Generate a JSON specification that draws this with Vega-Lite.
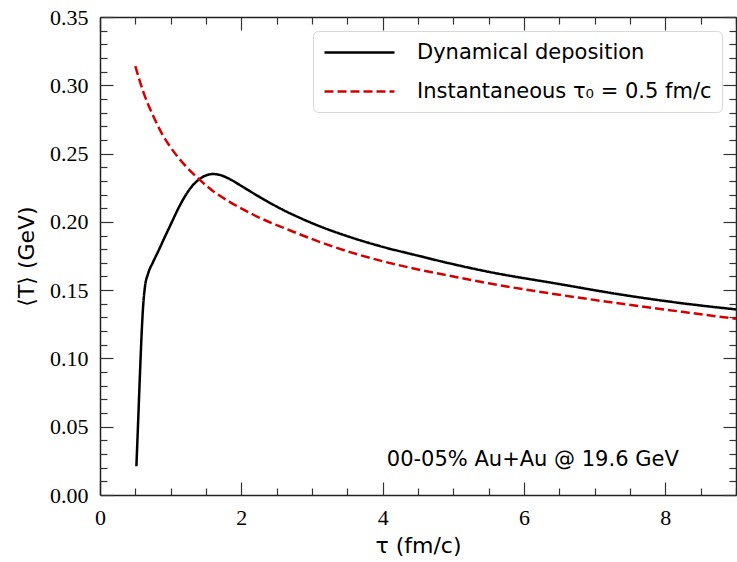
{
  "$schema": "https://vega.github.io/schema/vega-lite/v6.json",
  "width": 636,
  "height": 478,
  "autosize": {"type": "none"},
  "padding": {"left": 100, "top": 17, "right": 1, "bottom": 67},
  "background": "white",
  "config": {"view": {"stroke": null}, "font": "DejaVu Sans"},
  "datasets": {
    "curves": [
      {"series": "Dynamical deposition", "tau": 0.515, "T": 0.021},
      {"series": "Dynamical deposition", "tau": 0.54, "T": 0.054},
      {"series": "Dynamical deposition", "tau": 0.565, "T": 0.088},
      {"series": "Dynamical deposition", "tau": 0.59, "T": 0.119},
      {"series": "Dynamical deposition", "tau": 0.61, "T": 0.138},
      {"series": "Dynamical deposition", "tau": 0.635, "T": 0.152},
      {"series": "Dynamical deposition", "tau": 0.68, "T": 0.162},
      {"series": "Dynamical deposition", "tau": 0.75, "T": 0.1705},
      {"series": "Dynamical deposition", "tau": 0.82, "T": 0.178},
      {"series": "Dynamical deposition", "tau": 0.9, "T": 0.187},
      {"series": "Dynamical deposition", "tau": 1.0, "T": 0.198},
      {"series": "Dynamical deposition", "tau": 1.13, "T": 0.212},
      {"series": "Dynamical deposition", "tau": 1.27, "T": 0.224},
      {"series": "Dynamical deposition", "tau": 1.4, "T": 0.231},
      {"series": "Dynamical deposition", "tau": 1.5, "T": 0.234},
      {"series": "Dynamical deposition", "tau": 1.6, "T": 0.235},
      {"series": "Dynamical deposition", "tau": 1.7, "T": 0.2343},
      {"series": "Dynamical deposition", "tau": 1.84, "T": 0.2312},
      {"series": "Dynamical deposition", "tau": 2.0, "T": 0.2263},
      {"series": "Dynamical deposition", "tau": 2.2, "T": 0.22},
      {"series": "Dynamical deposition", "tau": 2.4, "T": 0.214},
      {"series": "Dynamical deposition", "tau": 2.6, "T": 0.2085},
      {"series": "Dynamical deposition", "tau": 2.8, "T": 0.2036},
      {"series": "Dynamical deposition", "tau": 3.06, "T": 0.1978},
      {"series": "Dynamical deposition", "tau": 3.53, "T": 0.189},
      {"series": "Dynamical deposition", "tau": 4.0, "T": 0.1817},
      {"series": "Dynamical deposition", "tau": 4.47, "T": 0.1756},
      {"series": "Dynamical deposition", "tau": 4.94, "T": 0.1697},
      {"series": "Dynamical deposition", "tau": 5.5, "T": 0.1634},
      {"series": "Dynamical deposition", "tau": 6.45, "T": 0.1549},
      {"series": "Dynamical deposition", "tau": 7.39, "T": 0.1466},
      {"series": "Dynamical deposition", "tau": 8.33, "T": 0.1398},
      {"series": "Dynamical deposition", "tau": 9.0, "T": 0.1359},
      {"series": "Instantaneous τ₀ = 0.5 fm/c", "tau": 0.5, "T": 0.314},
      {"series": "Instantaneous τ₀ = 0.5 fm/c", "tau": 0.55, "T": 0.3052},
      {"series": "Instantaneous τ₀ = 0.5 fm/c", "tau": 0.61, "T": 0.2956},
      {"series": "Instantaneous τ₀ = 0.5 fm/c", "tau": 0.68, "T": 0.2861},
      {"series": "Instantaneous τ₀ = 0.5 fm/c", "tau": 0.75, "T": 0.2779},
      {"series": "Instantaneous τ₀ = 0.5 fm/c", "tau": 0.87, "T": 0.2652},
      {"series": "Instantaneous τ₀ = 0.5 fm/c", "tau": 1.0, "T": 0.2545},
      {"series": "Instantaneous τ₀ = 0.5 fm/c", "tau": 1.2, "T": 0.2415},
      {"series": "Instantaneous τ₀ = 0.5 fm/c", "tau": 1.39, "T": 0.2318},
      {"series": "Instantaneous τ₀ = 0.5 fm/c", "tau": 1.6, "T": 0.2225},
      {"series": "Instantaneous τ₀ = 0.5 fm/c", "tau": 1.84, "T": 0.2145},
      {"series": "Instantaneous τ₀ = 0.5 fm/c", "tau": 2.12, "T": 0.2065},
      {"series": "Instantaneous τ₀ = 0.5 fm/c", "tau": 2.26, "T": 0.203},
      {"series": "Instantaneous τ₀ = 0.5 fm/c", "tau": 2.7, "T": 0.1935},
      {"series": "Instantaneous τ₀ = 0.5 fm/c", "tau": 3.29, "T": 0.182},
      {"series": "Instantaneous τ₀ = 0.5 fm/c", "tau": 3.9, "T": 0.1725},
      {"series": "Instantaneous τ₀ = 0.5 fm/c", "tau": 4.47, "T": 0.1655},
      {"series": "Instantaneous τ₀ = 0.5 fm/c", "tau": 5.0, "T": 0.16},
      {"series": "Instantaneous τ₀ = 0.5 fm/c", "tau": 5.5, "T": 0.155},
      {"series": "Instantaneous τ₀ = 0.5 fm/c", "tau": 6.45, "T": 0.147},
      {"series": "Instantaneous τ₀ = 0.5 fm/c", "tau": 7.39, "T": 0.14},
      {"series": "Instantaneous τ₀ = 0.5 fm/c", "tau": 8.33, "T": 0.1335},
      {"series": "Instantaneous τ₀ = 0.5 fm/c", "tau": 9.0, "T": 0.129}
    ]
  },
  "resolve": {"axis": {"x": "independent", "y": "independent"}},
  "layer": [
    {
      "data": {"name": "curves"},
      "mark": {"type": "line", "strokeWidth": 2.5, "interpolate": "monotone", "clip": true},
      "encoding": {
        "x": {
          "field": "tau", "type": "quantitative",
          "scale": {"domain": [0, 9], "nice": false, "zero": false},
          "axis": {
            "orient": "bottom",
            "values": [0, 2, 4, 6, 8],
            "format": "d",
            "ticks": false,
            "labelPadding": 12,
            "labelFlush": false,
            "labelOverlap": false,
            "labelFont": "Liberation Serif", "labelFontSize": 22, "labelColor": "black",
            "domainColor": "#222", "domainWidth": 1.5,
            "grid": false,
            "title": "τ (fm/c)",
            "titleFont": "DejaVu Sans", "titleFontSize": 22, "titleFontWeight": "normal", "titleColor": "black",
            "titlePadding": 7
          }
        },
        "y": {
          "field": "T", "type": "quantitative",
          "scale": {"domain": [0, 0.35], "nice": false, "zero": false},
          "axis": {
            "orient": "left",
            "values": [0, 0.05, 0.1, 0.15, 0.2, 0.25, 0.3, 0.35],
            "format": ".2f",
            "ticks": false,
            "labelPadding": 12,
            "labelFlush": false,
            "labelOverlap": false,
            "labelFont": "Liberation Serif", "labelFontSize": 22, "labelColor": "black",
            "domainColor": "#222", "domainWidth": 1.5,
            "grid": false,
            "title": "⟨T⟩ (GeV)",
            "titleFont": "DejaVu Sans", "titleFontSize": 22, "titleFontWeight": "normal", "titleColor": "black",
            "titlePadding": 11
          }
        },
        "color": {
          "field": "series", "type": "nominal",
          "scale": {"domain": ["Dynamical deposition", "Instantaneous τ₀ = 0.5 fm/c"], "range": ["#000000", "#d40000"]},
          "legend": {
            "title": null, "orient": "top-right", "offset": 14, "padding": 10,
            "symbolType": "M-1,0H6", "symbolSize": 400, "symbolStrokeWidth": 2.5,
            "labelFont": "DejaVu Sans", "labelFontSize": 21, "labelColor": "black",
            "labelOffset": 71, "rowPadding": 17, "labelLimit": 400,
            "strokeColor": "#d9d9d9", "fillColor": "white", "cornerRadius": 5
          }
        },
        "strokeDash": {
          "field": "series", "type": "nominal",
          "scale": {"domain": ["Dynamical deposition", "Instantaneous τ₀ = 0.5 fm/c"], "range": [[1, 0], [9, 4]]}
        }
      }
    },
    {
      "data": {"values": [{"label": "00-05% Au+Au @ 19.6 GeV"}]},
      "mark": {"type": "text", "align": "right", "baseline": "alphabetic", "font": "DejaVu Sans", "fontSize": 21, "color": "black"},
      "encoding": {
        "x": {"datum": 8.19, "type": "quantitative", "axis": null},
        "y": {"datum": 0.021, "type": "quantitative", "axis": null},
        "text": {"field": "label", "type": "nominal"}
      }
    },
    {
      "data": {"name": "curves"},
      "mark": {"type": "point", "opacity": 0},
      "encoding": {
        "x": {"field": "tau", "type": "quantitative",
          "axis": {"orient": "bottom", "values": [0, 2, 4, 6, 8], "labels": false, "domain": false, "tickSize": -13, "tickColor": "#333", "tickWidth": 1.2, "grid": false, "title": null}},
        "y": {"field": "T", "type": "quantitative",
          "axis": {"orient": "left", "values": [0, 0.05, 0.1, 0.15, 0.2, 0.25, 0.3, 0.35], "labels": false, "domain": false, "tickSize": -13, "tickColor": "#333", "tickWidth": 1.2, "grid": false, "title": null}}
      }
    },
    {
      "data": {"name": "curves"},
      "mark": {"type": "point", "opacity": 0},
      "encoding": {
        "x": {"field": "tau", "type": "quantitative",
          "axis": {"orient": "bottom", "values": [0.5, 1, 1.5, 2.5, 3, 3.5, 4.5, 5, 5.5, 6.5, 7, 7.5, 8.5, 9], "labels": false, "domain": false, "tickSize": -7, "tickColor": "#333", "tickWidth": 1.2, "grid": false, "title": null}},
        "y": {"field": "T", "type": "quantitative",
          "axis": {"orient": "left", "values": [0.01, 0.02, 0.03, 0.04, 0.06, 0.07, 0.08, 0.09, 0.11, 0.12, 0.13, 0.14, 0.16, 0.17, 0.18, 0.19, 0.21, 0.22, 0.23, 0.24, 0.26, 0.27, 0.28, 0.29, 0.31, 0.32, 0.33, 0.34], "labels": false, "domain": false, "tickSize": -7, "tickColor": "#333", "tickWidth": 1.2, "grid": false, "title": null}}
      }
    },
    {
      "data": {"name": "curves"},
      "mark": {"type": "point", "opacity": 0},
      "encoding": {
        "x": {"field": "tau", "type": "quantitative",
          "axis": {"orient": "top", "values": [0, 2, 4, 6, 8], "labels": false, "domain": true, "domainColor": "#222", "domainWidth": 1.5, "tickSize": -13, "tickColor": "#333", "tickWidth": 1.2, "grid": false, "title": null}},
        "y": {"field": "T", "type": "quantitative",
          "axis": {"orient": "right", "values": [0, 0.05, 0.1, 0.15, 0.2, 0.25, 0.3, 0.35], "labels": false, "domain": true, "domainColor": "#222", "domainWidth": 1.5, "tickSize": -13, "tickColor": "#333", "tickWidth": 1.2, "grid": false, "title": null}}
      }
    },
    {
      "data": {"name": "curves"},
      "mark": {"type": "point", "opacity": 0},
      "encoding": {
        "x": {"field": "tau", "type": "quantitative",
          "axis": {"orient": "top", "values": [0.5, 1, 1.5, 2.5, 3, 3.5, 4.5, 5, 5.5, 6.5, 7, 7.5, 8.5, 9], "labels": false, "domain": false, "tickSize": -7, "tickColor": "#333", "tickWidth": 1.2, "grid": false, "title": null}},
        "y": {"field": "T", "type": "quantitative",
          "axis": {"orient": "right", "values": [0.01, 0.02, 0.03, 0.04, 0.06, 0.07, 0.08, 0.09, 0.11, 0.12, 0.13, 0.14, 0.16, 0.17, 0.18, 0.19, 0.21, 0.22, 0.23, 0.24, 0.26, 0.27, 0.28, 0.29, 0.31, 0.32, 0.33, 0.34], "labels": false, "domain": false, "tickSize": -7, "tickColor": "#333", "tickWidth": 1.2, "grid": false, "title": null}}
      }
    }
  ]
}
